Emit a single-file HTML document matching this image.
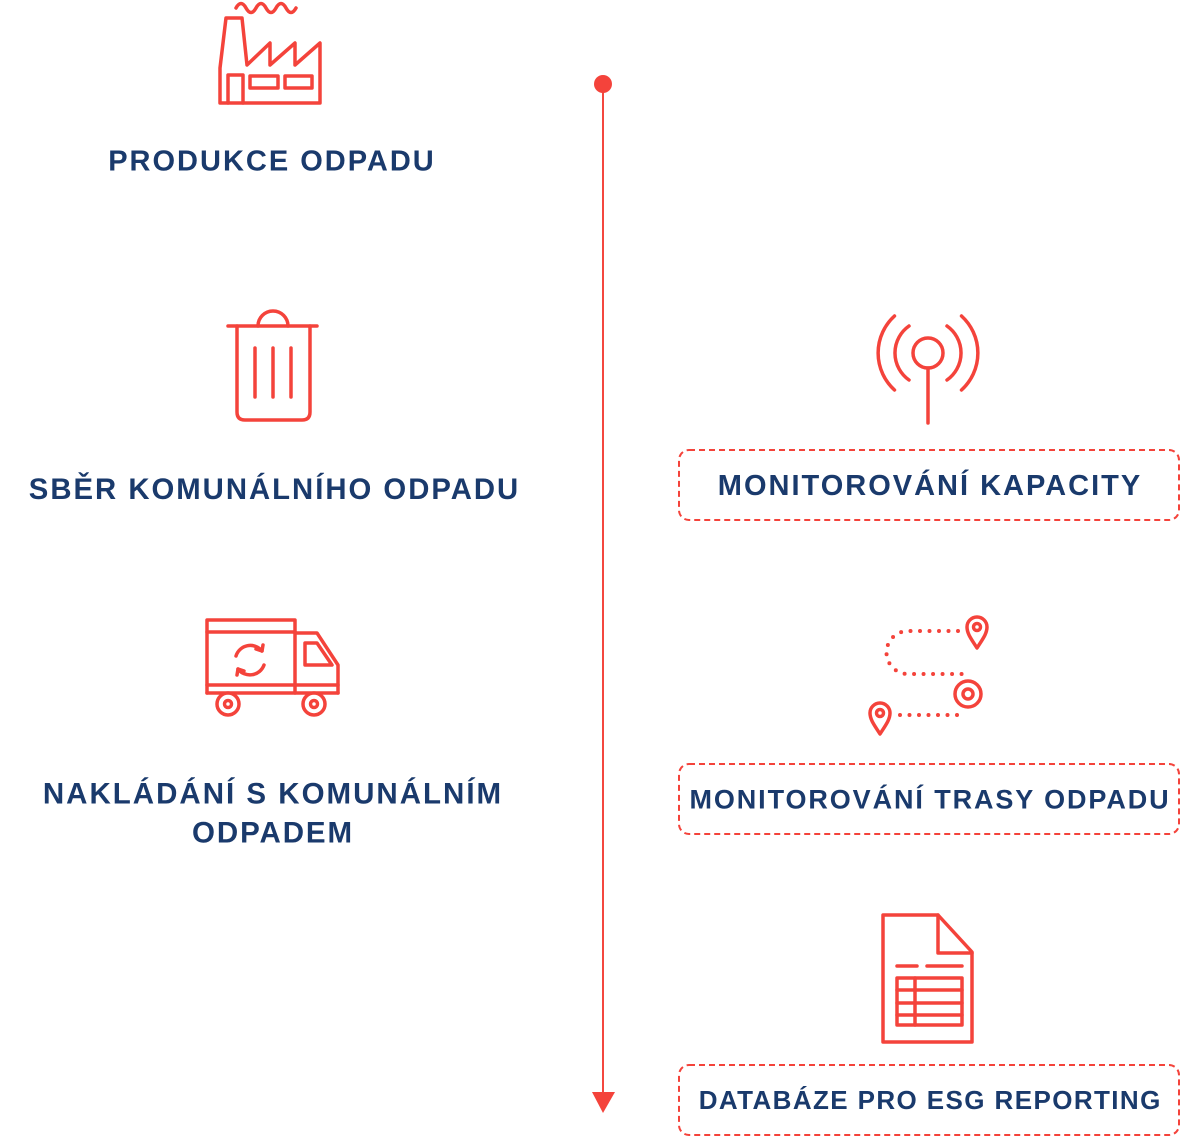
<!DOCTYPE html>
<html><head><meta charset="utf-8"><style>
html,body{margin:0;padding:0;background:#fff;}
svg{display:block;}
text{font-family:"Liberation Sans",Arial,sans-serif;font-weight:bold;fill:#1a3a6c;text-anchor:middle;}
</style></head><body>
<svg width="1200" height="1137" viewBox="0 0 1200 1137" xmlns="http://www.w3.org/2000/svg">
<g fill="none" stroke="#f4433b" stroke-width="3.5" stroke-linejoin="round" stroke-linecap="round">
  <!-- factory -->
  <path d="M220,103 L220,68 L226,18 L242,18 L247,65 L270,43 L270,65 L295,43 L295,65 L320,43 L320,103 Z"/>
  <path d="M228,103 V75 H243 V103"/>
  <rect x="250" y="76" width="28" height="12"/>
  <rect x="285" y="76" width="27" height="12"/>
  <path d="M236,8 q5,-9 10,0 t10,0 t10,0 t10,0 t10,0 t10,0"/>
  <!-- trash -->
  <path d="M228,326 H317"/>
  <path d="M258,326 A15,15 0 0 1 288,326"/>
  <path d="M237,326 V412 Q237,420 245,420 H302 Q310,420 310,412 V326"/>
  <path d="M255,348 V397 M273,348 V397 M291,348 V397"/>
  <!-- truck -->
  <path d="M207,693 V620 H295 V693"/>
  <path d="M207,632 H295"/>
  <path d="M295,633 H317 L338,665 V693"/>
  <path d="M305,643 H317 L332,665 H305 Z"/>
  <path d="M207,685 H338"/>
  <path d="M207,693 H338"/>
  <circle cx="228" cy="704" r="11" fill="#fff"/>
  <circle cx="228" cy="704" r="3.5"/>
  <circle cx="314" cy="704" r="11" fill="#fff"/>
  <circle cx="314" cy="704" r="3.5"/>
  <path d="M236,656 A15,15 0 0 1 262,651"/>
  <path d="M256,649 L262,651 L263,645"/>
  <path d="M264,665 A15,15 0 0 1 238,669"/>
  <path d="M244,671 L238,669 L237,675"/>
  <!-- antenna -->
  <circle cx="928" cy="353" r="15"/>
  <path d="M928,368 V423"/>
  <path d="M947,326 A33,33 0 0 1 947,380"/>
  <path d="M909,326 A33,33 0 0 0 909,380"/>
  <path d="M961.5,316 A50,50 0 0 1 961.5,390"/>
  <path d="M894.5,316 A50,50 0 0 0 894.5,390"/>
  <!-- route -->
  <path d="M977,648 C972,640 967,634 967,627 A10,10 0 0 1 987,627 C987,634 982,640 977,648 Z"/>
  <circle cx="977" cy="627" r="3.5"/>
  <path d="M880,734 C875,726 870,720 870,713 A10,10 0 0 1 890,713 C890,720 885,726 880,734 Z"/>
  <circle cx="880" cy="713" r="3.5"/>
  <circle cx="968" cy="694" r="13"/>
  <circle cx="968" cy="694" r="5"/>
  <path d="M958,631 H908 A21.5,21.5 0 0 0 908,674 H962" stroke-width="4" stroke-dasharray="0 9.5"/>
  <path d="M900,715 H962" stroke-width="4" stroke-dasharray="0 9.5"/>
  <!-- document -->
  <path d="M883,915 H938 L972,952 V1042 H883 Z"/>
  <path d="M938,915 V953 H972"/>
  <path d="M897,966 H917 M927,966 H962"/>
  <rect x="897" y="978" width="65" height="47"/>
  <path d="M897,990 H962 M897,1003 H962 M897,1015 H962 M915,978 V1025"/>
</g>
<!-- timeline -->
<line x1="603" y1="84" x2="603" y2="1095" stroke="#f4473f" stroke-width="2"/>
<circle cx="603" cy="84" r="9" fill="#f4433b"/>
<polygon points="592,1092 615,1092 603,1113" fill="#f4433b"/>
<!-- dashed boxes -->
<g fill="none" stroke="#f4433b" stroke-width="2" stroke-dasharray="6 4">
  <rect x="679" y="450" width="500" height="70" rx="10"/>
  <rect x="679" y="764" width="500" height="70" rx="10"/>
  <rect x="679" y="1065" width="500" height="70" rx="10"/>
</g>
<!-- labels -->
<text x="272" y="170.5" font-size="29" letter-spacing="2">PRODUKCE ODPADU</text>
<text x="274.5" y="499" font-size="29.3" letter-spacing="2">SBĚR KOMUNÁLNÍHO ODPADU</text>
<text x="273" y="803.5" font-size="29.5" letter-spacing="2">NAKLÁDÁNÍ S KOMUNÁLNÍM</text>
<text x="273" y="842.5" font-size="29.5" letter-spacing="1.9">ODPADEM</text>
<text x="930" y="495" font-size="29" letter-spacing="2">MONITOROVÁNÍ KAPACITY</text>
<text x="930" y="808.7" font-size="27" letter-spacing="1.9">MONITOROVÁNÍ TRASY ODPADU</text>
<text x="930.2" y="1109" font-size="26" letter-spacing="1.4">DATABÁZE PRO ESG REPORTING</text>
</svg>
</body></html>
